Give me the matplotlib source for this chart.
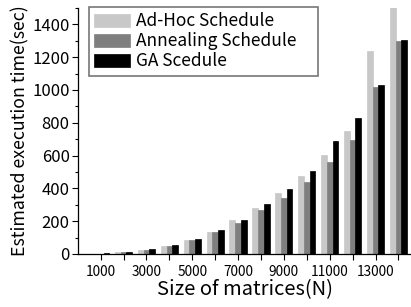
import matplotlib
matplotlib.use('Agg')
import matplotlib.pyplot as plt
import numpy as np
from matplotlib.ticker import MultipleLocator

plt.rcParams['font.family'] = ['Noto Sans CJK JP', 'DejaVu Sans']

# ---- data ----
sizes = [1000, 2000, 3000, 4000, 5000, 6000, 7000, 8000, 9000, 10000,
         11000, 12000, 13000, 14000]
adhoc = [3, 12, 25, 49, 86, 135, 206, 282, 372, 478, 604, 747, 1239, 1530]
annealing = [3, 12, 25, 49, 86, 135, 188, 269, 343, 441, 559, 696, 1021, 1298]
ga = [5, 15, 31, 55, 92, 147, 208, 304, 398, 508, 690, 829, 1033, 1302]

series = [
    ("Ad-Hoc Schedule", adhoc, "#c8c8c8"),
    ("Annealing Schedule", annealing, "#7f7f7f"),
    ("GA Scedule", ga, "#000000"),
]

W, H = 411, 307
fig = plt.figure(figsize=(W / 100, H / 100), dpi=100)
ax = fig.add_axes([78 / W, 53 / H, (W - 78) / W, 246 / H])

x = np.arange(len(sizes))
bw = 0.25
for i, (name, vals, col) in enumerate(series):
    ax.bar(x + (i - 1) * bw, vals, width=bw, color=col, edgecolor=col,
           linewidth=0.5, label=name)

ax.set_xlim(-0.99, 13.55)
ax.set_ylim(0, 1500)
ax.set_xticks(x)
ax.set_xticklabels([str(s) if i % 2 == 0 else "" for i, s in enumerate(sizes)],
                   fontsize=9.8)
ax.yaxis.set_major_locator(MultipleLocator(200))
ax.yaxis.set_minor_locator(MultipleLocator(100))
ax.tick_params(axis='y', labelsize=12, length=4, width=0.8, pad=2)
ax.tick_params(axis='y', which='minor', length=2, width=0.8)
ax.tick_params(axis='x', length=4, width=0.8, pad=4)

for s in ['top', 'right']:
    ax.spines[s].set_visible(False)
for s in ['left', 'bottom']:
    ax.spines[s].set_linewidth(0.9)

ax.set_ylabel("Estimated execution time(sec)", fontsize=12.8, labelpad=2)
ax.set_xlabel("Size of matrices(N)", fontsize=14.5, labelpad=0)

leg = fig.legend(loc='upper left',
                 bbox_to_anchor=(89 / W, 1 - 73 / H, 229 / W, 66 / H),
                 mode='expand',
                 fontsize=12.5, frameon=True, fancybox=False,
                 edgecolor='#555555', borderaxespad=0, handlelength=2.05,
                 handleheight=0.8, labelspacing=0.12, borderpad=0.3,
                 handletextpad=0.35)
leg.get_frame().set_linewidth(1.2)

fig.savefig("out.png", dpi=100)
